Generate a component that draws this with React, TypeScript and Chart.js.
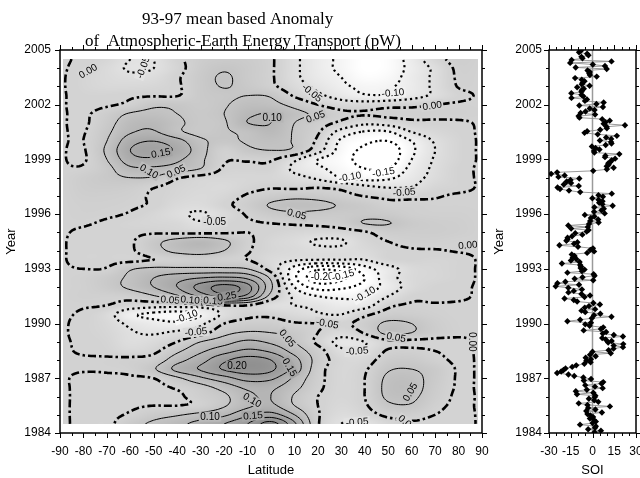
import React, { useEffect, useRef } from "react";
import { Chart, registerables } from "chart.js";
Chart.register(...registerables);

// ---------------- data ----------------
const GRID_LATS = [-90, -80, -70, -60, -50, -40, -30, -20, -10, 0, 10, 20, 30, 40, 50, 60, 70, 80, 90];
const GRID_YEARS = [
  2004.5, 2004.0, 2003.5, 2003.0, 2002.5, 2002.0, 2001.5, 2001.0, 2000.5, 2000.0,
  1999.5, 1999.0, 1998.5, 1998.0, 1997.5, 1997.0, 1996.5, 1996.0, 1995.5, 1995.0,
  1994.5, 1994.0, 1993.5, 1993.0, 1992.5, 1992.0, 1991.5, 1991.0, 1990.5, 1990.0,
  1989.5, 1989.0, 1988.5, 1988.0, 1987.5, 1987.0, 1986.5, 1986.0, 1985.5, 1985.0, 1984.5,
];
// anomaly (pW), one row per GRID_YEARS entry, columns follow GRID_LATS
const ANOMALY = [
  [0.003, -0.005, -0.02, -0.05, -0.05, -0.01, 0.02, 0.03, 0.025, 0.005, -0.04, -0.08, -0.11, -0.14, -0.13, -0.08, -0.02, 0.015, 0.006],
  [0.003, -0.01, -0.03, -0.055, -0.05, -0.015, 0.025, 0.045, 0.03, 0.005, -0.04, -0.08, -0.11, -0.14, -0.13, -0.085, -0.04, 0.008, 0.004],
  [0.003, -0.015, -0.03, -0.04, -0.035, -0.005, 0.03, 0.055, 0.03, 0.005, -0.04, -0.075, -0.1, -0.13, -0.12, -0.08, -0.04, 0.005, 0.003],
  [0.003, -0.015, -0.025, -0.025, -0.02, -0.005, 0.03, 0.052, 0.035, 0.01, -0.03, -0.06, -0.09, -0.11, -0.105, -0.08, -0.04, 0.002, 0.003],
  [0.003, -0.01, -0.01, -0.005, -0.003, -0.002, 0.03, 0.04, 0.05, 0.045, -0.005, -0.04, -0.07, -0.095, -0.095, -0.07, -0.04, -0.01, 0.003],
  [0.003, -0.01, -0.005, 0.01, 0.04, 0.04, 0.03, 0.045, 0.07, 0.065, 0.035, 0.0, -0.025, -0.025, -0.015, -0.01, 0.0, 0.005, 0.004],
  [0.003, -0.005, 0.02, 0.055, 0.065, 0.05, 0.035, 0.05, 0.09, 0.1, 0.065, 0.04, 0.01, 0.003, 0.01, 0.01, 0.01, 0.01, 0.005],
  [0.003, -0.005, 0.03, 0.08, 0.09, 0.06, 0.035, 0.045, 0.1, 0.1, 0.05, 0.02, -0.01, -0.04, -0.03, -0.01, -0.008, -0.005, 0.003],
  [0.003, -0.002, 0.04, 0.095, 0.105, 0.06, 0.035, 0.045, 0.06, 0.085, 0.045, 0.005, -0.07, -0.105, -0.105, -0.05, -0.025, -0.01, 0.003],
  [0.003, 0.0, 0.05, 0.13, 0.15, 0.12, 0.06, 0.04, 0.055, 0.065, 0.045, -0.01, -0.11, -0.14, -0.15, -0.1, -0.045, -0.015, 0.003],
  [0.003, -0.003, 0.06, 0.15, 0.17, 0.14, 0.07, 0.01, 0.04, 0.05, 0.04, -0.03, -0.12, -0.16, -0.18, -0.11, -0.05, -0.015, 0.003],
  [0.003, -0.004, 0.05, 0.13, 0.14, 0.11, 0.06, 0.005, 0.005, 0.005, -0.04, -0.1, -0.13, -0.17, -0.18, -0.1, -0.045, -0.015, 0.003],
  [0.003, 0.005, 0.035, 0.09, 0.09, 0.075, 0.05, -0.005, -0.01, -0.01, -0.06, -0.09, -0.12, -0.15, -0.15, -0.085, -0.04, -0.01, 0.003],
  [0.003, 0.02, 0.035, 0.05, 0.045, 0.005, -0.015, -0.02, -0.02, -0.02, -0.035, -0.06, -0.1, -0.12, -0.11, -0.07, -0.035, -0.01, 0.003],
  [0.003, 0.02, 0.025, 0.02, 0.003, -0.015, -0.025, -0.03, -0.015, -0.005, -0.01, -0.005, -0.015, -0.04, -0.055, -0.05, -0.02, -0.01, 0.003],
  [0.003, 0.015, 0.015, 0.01, -0.005, -0.02, -0.03, -0.02, 0.005, 0.025, 0.035, 0.03, 0.015, -0.002, -0.01, -0.01, -0.003, 0.004, 0.004],
  [0.003, 0.01, 0.01, 0.005, -0.005, -0.03, -0.035, -0.01, 0.02, 0.055, 0.07, 0.065, 0.045, 0.03, 0.01, 0.01, 0.005, 0.005, 0.004],
  [0.003, 0.008, 0.005, -0.003, -0.02, -0.04, -0.055, -0.03, 0.005, 0.03, 0.04, 0.035, 0.03, 0.035, 0.03, 0.015, 0.01, 0.01, 0.005],
  [0.003, 0.003, -0.005, -0.015, -0.02, -0.025, -0.045, -0.015, -0.005, 0.0, 0.005, 0.01, 0.02, 0.052, 0.052, 0.03, 0.02, 0.015, 0.006],
  [0.003, -0.005, -0.01, -0.008, -0.005, -0.008, -0.01, -0.005, 0.0, -0.01, -0.02, -0.025, -0.02, -0.005, 0.02, 0.02, 0.02, 0.015, 0.006],
  [0.003, -0.01, -0.01, -0.005, 0.035, 0.07, 0.09, 0.06, 0.01, -0.02, -0.035, -0.055, -0.055, -0.02, 0.0, 0.01, 0.01, 0.005, 0.004],
  [0.003, -0.01, -0.01, -0.005, 0.03, 0.065, 0.075, 0.05, 0.005, -0.02, -0.03, -0.04, -0.04, -0.03, -0.01, -0.003, -0.002, 0.002, 0.003],
  [0.003, -0.01, -0.01, -0.01, 0.0, 0.01, 0.02, 0.01, 0.0, -0.03, -0.045, -0.05, -0.05, -0.05, -0.015, -0.01, -0.015, -0.01, 0.003],
  [0.003, 0.0, 0.003, 0.045, 0.06, 0.06, 0.06, 0.06, 0.05, -0.02, -0.12, -0.19, -0.18, -0.12, -0.07, -0.03, -0.02, -0.01, 0.003],
  [0.003, 0.01, 0.03, 0.06, 0.1, 0.13, 0.15, 0.16, 0.14, 0.04, -0.14, -0.23, -0.21, -0.15, -0.07, -0.03, -0.02, -0.01, 0.003],
  [0.003, 0.01, 0.03, 0.06, 0.1, 0.15, 0.22, 0.27, 0.22, 0.06, -0.1, -0.17, -0.16, -0.13, -0.08, -0.03, -0.01, -0.005, 0.003],
  [0.003, 0.01, 0.01, 0.015, 0.045, 0.09, 0.16, 0.22, 0.18, 0.03, -0.06, -0.1, -0.11, -0.1, -0.05, -0.01, -0.008, -0.004, 0.003],
  [0.003, 0.003, 0.0, -0.02, -0.03, -0.03, -0.02, 0.0, 0.0, -0.04, -0.05, -0.06, -0.08, -0.07, -0.01, 0.005, 0.003, 0.003, 0.003],
  [0.003, -0.005, -0.03, -0.09, -0.11, -0.12, -0.1, -0.04, -0.01, -0.01, -0.03, -0.045, -0.05, -0.01, 0.02, 0.02, 0.01, 0.003, 0.003],
  [0.003, -0.008, -0.025, -0.06, -0.08, -0.09, -0.06, 0.0, 0.02, 0.02, 0.005, 0.0, -0.01, 0.02, 0.06, 0.05, 0.02, 0.005, 0.003],
  [0.003, -0.008, -0.02, -0.045, -0.055, -0.04, -0.02, 0.035, 0.055, 0.05, 0.035, 0.0, -0.03, 0.005, 0.065, 0.05, 0.02, 0.005, 0.003],
  [0.003, -0.005, -0.015, -0.04, -0.03, 0.0, 0.05, 0.08, 0.11, 0.09, 0.05, -0.01, -0.065, -0.05, -0.01, -0.01, -0.01, -0.005, 0.003],
  [0.003, -0.003, -0.01, -0.025, -0.01, 0.04, 0.09, 0.13, 0.16, 0.14, 0.08, 0.02, -0.04, -0.04, 0.005, 0.01, 0.0, -0.005, 0.003],
  [0.003, 0.003, 0.005, 0.01, 0.02, 0.08, 0.13, 0.19, 0.22, 0.2, 0.12, 0.03, -0.02, -0.02, 0.025, 0.03, 0.01, -0.005, 0.003],
  [0.003, 0.002, 0.003, 0.01, 0.045, 0.115, 0.155, 0.205, 0.225, 0.21, 0.13, 0.02, -0.02, -0.005, 0.045, 0.05, 0.03, -0.003, 0.003],
  [0.003, -0.005, -0.005, -0.005, 0.0, 0.04, 0.09, 0.13, 0.17, 0.16, 0.09, 0.015, -0.02, 0.0, 0.06, 0.065, 0.03, -0.003, 0.003],
  [0.003, -0.005, -0.008, -0.01, -0.008, 0.005, 0.03, 0.07, 0.11, 0.11, 0.065, 0.01, -0.02, 0.0, 0.065, 0.07, 0.025, -0.003, 0.003],
  [0.003, -0.005, -0.01, -0.01, -0.01, -0.005, 0.015, 0.04, 0.09, 0.1, 0.045, 0.0, -0.02, 0.0, 0.06, 0.06, 0.02, -0.005, 0.003],
  [0.003, -0.005, -0.008, -0.005, 0.0, 0.0, 0.01, 0.045, 0.09, 0.11, 0.05, 0.0, -0.025, -0.005, 0.04, 0.045, 0.01, -0.005, 0.003],
  [0.003, -0.005, -0.008, 0.005, 0.03, 0.045, 0.065, 0.09, 0.14, 0.17, 0.1, 0.005, -0.035, -0.02, 0.01, 0.015, 0.0, -0.008, 0.003],
  [0.003, -0.005, -0.01, 0.03, 0.06, 0.085, 0.12, 0.15, 0.2, 0.27, 0.16, 0.005, -0.05, -0.055, -0.02, -0.005, -0.01, -0.01, 0.003],
];
const CONTOUR_LEVELS = [-0.25, -0.2, -0.15, -0.1, -0.05, 0, 0.05, 0.1, 0.15, 0.2, 0.25];
// contour labels: [latitude, year, text, angle (deg, counter-clockwise)]
const CONTOUR_LABELS: [number, number, string, number][] = [
  [-78, 2003.85, "0.00", 30], [-54.6, 2004.05, "-0.05", 70], [-47, 1999.35, "0.15", 10],
  [-52, 1998.35, "0.10", -30], [-40.5, 1998.35, "0.05", 25], [0.5, 2001.3, "0.10", 0],
  [19, 2001.35, "0.05", 20], [17.5, 2002.65, "-0.05", -40], [52, 2002.65, "-0.10", 5],
  [68.7, 2001.95, "0.00", 8], [48, 1998.3, "-0.15", 10], [33.7, 1998.05, "-0.10", 10],
  [56.8, 1997.2, "-0.05", 5], [11, 1996.0, "0.05", -15], [-24, 1995.6, "-0.05", 0],
  [-43, 1991.3, "0.05", -5], [-34.5, 1991.3, "0.10", -5], [-24.7, 1991.25, "0.15", -5],
  [-18.8, 1991.5, "0.25", 10], [-36, 1990.4, "-0.10", 20], [-32, 1989.55, "-0.05", 5],
  [-14.5, 1987.7, "0.20", 0], [-8, 1985.8, "0.10", -30], [-26, 1984.9, "0.10", 0],
  [-7.7, 1984.95, "0.15", 5], [21.8, 1992.55, "-0.20", 0], [30.7, 1992.65, "-0.15", 15],
  [40, 1991.6, "-0.10", 30], [84, 1994.3, "0.00", 5], [24, 1990.0, "-0.05", -10],
  [7, 1989.2, "0.05", -50], [53.4, 1989.25, "0.05", -10], [36.7, 1988.5, "-0.05", 5],
  [8, 1987.6, "0.15", -60], [59.3, 1986.25, "0.05", 60], [86, 1989.0, "0.00", -90],
  [58, 1984.55, "0.00", -40], [36.7, 1984.6, "-0.05", 5],
];
const LAT_TICKS = [-90, -80, -70, -60, -50, -40, -30, -20, -10, 0, 10, 20, 30, 40, 50, 60, 70, 80, 90];
const YEAR_TICKS = [1984, 1987, 1990, 1993, 1996, 1999, 2002, 2005];
const SOI_TICKS = [-30, -15, 0, 15, 30];
const TITLE_LINES = ["93-97 mean based Anomaly", "of  Atmospheric-Earth Energy Transport (pW)"];

// monthly Southern Oscillation Index, Jan..Dec
const SOI_YEARS = [1984, 1985, 1986, 1987, 1988, 1989, 1990, 1991, 1992, 1993, 1994, 1995, 1996, 1997, 1998, 1999, 2000, 2001, 2002, 2003, 2004];
const SOI_1984 = [1.4, 5.8, -3.0, 1.8, 2.3, -8.6, 0.0, 2.3, 1.1, -1.8, 0.4, -1.5];
const SOI_1985 = [-3.5, 6.5, -4.3, 2.0, -3.0, 12.0, -3.5, -9.5, 4.0, 1.2, -2.5, 1.5];
const SOI_1986 = [2.0, -10.7, 0.6, -11.5, -3.9, 7.0, 1.7, -5.0, 6.2, 7.4, -6.0, -1.0];
const SOI_1987 = [-6.3, -12.6, -16.6, -24.4, -21.6, -20.0, -18.6, -14.0, -11.2, -5.6, -1.3, -4.2];
const SOI_1988 = [-1.1, -4.7, 2.2, -1.7, 12.6, 0.0, 11.1, 14.5, 21.0, 14.6, 21.2, 10.8];
const SOI_1989 = [13.2, 9.1, 6.7, 21.0, 14.7, 7.1, 9.4, -6.1, 5.8, 7.4, -2.0, -5.0];
const SOI_1990 = [-1.1, -17.3, -8.5, -0.5, 13.1, 1.0, 5.4, -5.0, -7.6, 1.8, -5.3, -2.4];
const SOI_1991 = [5.1, 0.6, -10.6, -12.9, -19.3, -5.5, -1.7, -7.6, -16.6, -12.9, -7.3, -16.7];
const SOI_1992 = [-25.4, -9.3, -24.2, -18.7, 0.5, -12.3, -6.9, 1.4, 0.8, -17.3, -7.3, -5.5];
const SOI_1993 = [-8.2, -7.9, -8.5, -21.1, -8.9, -14.9, -11.2, -13.6, -12.4, -14.3, -3.7, 1.1];
const SOI_1994 = [-1.5, 0.3, -10.0, -22.8, -12.7, -10.4, -18.0, -17.2, -17.2, -14.1, -7.0, -11.9];
const SOI_1995 = [-4.0, -2.7, -14.7, -3.2, -16.7, -2.4, 4.2, -1.6, 3.9, -1.1, 1.3, -5.3];
const SOI_1996 = [8.4, 1.1, 6.2, 7.8, 1.3, 13.9, 6.8, 4.6, 6.9, 4.2, -0.1, 7.2];
const SOI_1997 = [4.1, 13.3, -8.5, -16.2, -22.4, -24.1, -9.5, -19.8, -14.8, -17.8, -15.2, -9.1];
const SOI_1998 = [-23.5, -19.2, -28.5, -24.4, 0.5, 9.9, 14.6, 9.8, 11.1, 10.9, 12.5, 13.3];
const SOI_1999 = [15.6, 8.6, 8.9, 18.5, 1.3, 1.0, 4.8, 2.1, -0.4, 9.1, 13.1, 12.8];
const SOI_2000 = [5.1, 12.9, 9.4, 16.8, 3.6, -5.5, -3.7, 5.3, 9.9, 9.7, 22.4, 7.7];
const SOI_2001 = [8.9, 11.9, 6.7, -9.0, -9.6, 1.8, -8.2, -4.8, 1.4, -1.9, 7.2, -9.1];
const SOI_2002 = [2.7, 7.7, -5.2, -3.8, -14.5, -6.3, -7.6, -14.6, -7.6, -7.4, -6.0, -10.6];
const SOI_2003 = [-2.0, -7.4, -6.8, -5.5, -7.4, -12.0, 2.9, -1.8, -2.2, -1.9, -3.4, 9.8];
const SOI_2004 = [-11.6, 8.6, 0.2, -15.4, 13.1, -14.4, -6.9, -7.6, -2.8, -3.7, -9.3, -8.0];
const SOI_BY_YEAR = [SOI_1984, SOI_1985, SOI_1986, SOI_1987, SOI_1988, SOI_1989, SOI_1990, SOI_1991, SOI_1992, SOI_1993, SOI_1994, SOI_1995, SOI_1996, SOI_1997, SOI_1998, SOI_1999, SOI_2000, SOI_2001, SOI_2002, SOI_2003, SOI_2004];

// extent of the gridded field on the plot
const FIELD_LAT_MIN = -88.8;
const FIELD_LAT_MAX = 88.4;
const FIELD_YEAR_MIN = 1984.5;
const FIELD_YEAR_MAX = 2004.5;

// ---------------- field helpers ----------------
const clampI = (i: number, n: number) => (i < 0 ? 0 : i > n - 1 ? n - 1 : i);
function catmull(p0: number, p1: number, p2: number, p3: number, t: number) {
  return 0.5 * (2 * p1 + (-p0 + p2) * t + (2 * p0 - 5 * p1 + 4 * p2 - p3) * t * t + (-p0 + 3 * p1 - 3 * p2 + p3) * t * t * t);
}
function sampleField(lat: number, year: number) {
  const nR = ANOMALY.length, nC = GRID_LATS.length;
  let fr = (GRID_YEARS[0] - year) / (GRID_YEARS[0] - GRID_YEARS[1]);
  let fc = (lat - GRID_LATS[0]) / (GRID_LATS[1] - GRID_LATS[0]);
  fr = Math.max(0, Math.min(nR - 1, fr));
  fc = Math.max(0, Math.min(nC - 1, fc));
  const r1 = Math.min(Math.floor(fr), nR - 2), c1 = Math.min(Math.floor(fc), nC - 2);
  const tr = fr - r1, tc = fc - c1;
  const rv: number[] = [];
  for (let k = -1; k <= 2; k++) {
    const row = ANOMALY[clampI(r1 + k, nR)];
    rv.push(catmull(row[clampI(c1 - 1, nC)], row[c1], row[c1 + 1], row[clampI(c1 + 2, nC)], tc));
  }
  return catmull(rv[0], rv[1], rv[2], rv[3], tr);
}
function grayFor(v: number) {
  let g: number;
  if (v >= 0) g = 211 - 290 * v;
  else g = 211 + 340 * Math.max(0, -v - 0.01);
  return Math.round(Math.max(128, Math.min(255, g)));
}

type Line = [number, number][];
let contourCache: { level: number; lines: Line[] }[] | null = null;
function computeContours() {
  if (contourCache) return contourCache;
  const nC = 178, nR = 201;
  const lats: number[] = [], years: number[] = [];
  for (let c = 0; c < nC; c++) lats.push(FIELD_LAT_MIN + ((FIELD_LAT_MAX - FIELD_LAT_MIN) * c) / (nC - 1));
  for (let r = 0; r < nR; r++) years.push(FIELD_YEAR_MAX - ((FIELD_YEAR_MAX - FIELD_YEAR_MIN) * r) / (nR - 1));
  const vals = new Float64Array(nR * nC);
  for (let r = 0; r < nR; r++) for (let c = 0; c < nC; c++) vals[r * nC + c] = sampleField(lats[c], years[r]);
  const NH = nR * nC;
  const out: { level: number; lines: Line[] }[] = [];
  for (const L of CONTOUR_LEVELS) {
    const adj = new Map<number, number[]>();
    const link = (a: number, b: number) => {
      if (!adj.has(a)) adj.set(a, []);
      if (!adj.has(b)) adj.set(b, []);
      adj.get(a)!.push(b);
      adj.get(b)!.push(a);
    };
    for (let r = 0; r < nR - 1; r++) {
      for (let c = 0; c < nC - 1; c++) {
        const i0 = r * nC + c;
        const v0 = vals[i0], v1 = vals[i0 + 1], v2 = vals[i0 + nC + 1], v3 = vals[i0 + nC];
        const a0 = v0 >= L, a1 = v1 >= L, a2 = v2 >= L, a3 = v3 >= L;
        const top = r * nC + c, bottom = (r + 1) * nC + c;
        const left = NH + r * nC + c, right = NH + r * nC + c + 1;
        const cr: number[] = [];
        if (a0 !== a1) cr.push(top);
        if (a1 !== a2) cr.push(right);
        if (a3 !== a2) cr.push(bottom);
        if (a0 !== a3) cr.push(left);
        if (cr.length === 2) link(cr[0], cr[1]);
        else if (cr.length === 4) {
          const m = (v0 + v1 + v2 + v3) / 4 >= L;
          if (m === a0) { link(top, right); link(bottom, left); }
          else { link(left, top); link(right, bottom); }
        }
      }
    }
    const pt = (key: number): [number, number] => {
      if (key < NH) {
        const r = Math.floor(key / nC), c = key % nC;
        const va = vals[key], vb = vals[key + 1];
        const t = (L - va) / (vb - va);
        return [lats[c] + t * (lats[c + 1] - lats[c]), years[r]];
      }
      const k = key - NH;
      const r = Math.floor(k / nC), c = k % nC;
      const va = vals[k], vb = vals[k + nC];
      const t = (L - va) / (vb - va);
      return [lats[c], years[r] + t * (years[r + 1] - years[r])];
    };
    const used = new Set<number>();
    const lines: Line[] = [];
    const walk = (start: number) => {
      const seq = [start];
      used.add(start);
      let cur = start;
      for (;;) {
        const nb = adj.get(cur) || [];
        let nxt = -1;
        for (const n of nb) if (!used.has(n)) { nxt = n; break; }
        if (nxt < 0) {
          if (seq.length > 2 && nb.includes(start)) seq.push(start);
          break;
        }
        seq.push(nxt);
        used.add(nxt);
        cur = nxt;
      }
      lines.push(seq.map(pt));
    };
    for (const [k, nb] of adj) if (nb.length === 1 && !used.has(k)) walk(k);
    for (const k of adj.keys()) if (!used.has(k)) walk(k);
    out.push({ level: L, lines });
  }
  contourCache = out;
  return out;
}

// ---------------- drawing helpers ----------------
function drawFrameAndTicks(chart: any, xMajor: number[], xMinor: number[], yMajor: number[], yMinor: number[]) {
  const { ctx, chartArea: a, scales } = chart;
  const xs = scales.x, ys = scales.y;
  ctx.save();
  ctx.strokeStyle = "#000";
  ctx.lineWidth = 1;
  const seg = (x1: number, y1: number, x2: number, y2: number) => {
    ctx.beginPath();
    ctx.moveTo(x1, y1);
    ctx.lineTo(x2, y2);
    ctx.stroke();
  };
  const doX = (vals: number[], len: number) => vals.forEach((v) => {
    const p = Math.round(xs.getPixelForValue(v)) + 0.5;
    seg(p, a.bottom, p, a.bottom + len);
    seg(p, a.top, p, a.top - len);
  });
  const doY = (vals: number[], len: number) => vals.forEach((v) => {
    const p = Math.round(ys.getPixelForValue(v)) + 0.5;
    seg(a.left, p, a.left - len, p);
    seg(a.right, p, a.right + len, p);
  });
  doX(xMajor, 5); doX(xMinor, 3); doY(yMajor, 5); doY(yMinor, 3);
  ctx.lineWidth = 1.5;
  ctx.strokeRect(a.left, a.top, a.right - a.left, a.bottom - a.top);
  ctx.restore();
}

let fieldImage: HTMLCanvasElement | null = null;
const fieldPlugin = {
  id: "fieldPlugin",
  afterDraw(chart: any) {
    const { ctx, scales } = chart;
    const xs = scales.x, ys = scales.y;
    const x0 = Math.round(xs.getPixelForValue(FIELD_LAT_MIN));
    const x1 = Math.round(xs.getPixelForValue(FIELD_LAT_MAX));
    const y0 = Math.round(ys.getPixelForValue(FIELD_YEAR_MAX));
    const y1 = Math.round(ys.getPixelForValue(FIELD_YEAR_MIN));
    const w = x1 - x0, h = y1 - y0;
    if (!fieldImage) {
      const off = document.createElement("canvas");
      off.width = w; off.height = h;
      const octx = off.getContext("2d")!;
      const img = octx.createImageData(w, h);
      for (let j = 0; j < h; j++) {
        const yr = ys.getValueForPixel(y0 + j + 0.5);
        for (let i = 0; i < w; i++) {
          const lat = xs.getValueForPixel(x0 + i + 0.5);
          const g = grayFor(sampleField(lat, yr));
          const o = (j * w + i) * 4;
          img.data[o] = g; img.data[o + 1] = g; img.data[o + 2] = g; img.data[o + 3] = 255;
        }
      }
      octx.putImageData(img, 0, 0);
      fieldImage = off;
    }
    ctx.save();
    ctx.drawImage(fieldImage, x0, y0);
    ctx.beginPath();
    ctx.rect(x0, y0, w, h);
    ctx.clip();
    const contours = computeContours();
    ctx.lineJoin = "round";
    for (const { level, lines } of contours) {
      if (level > 0.001) { ctx.setLineDash([]); ctx.lineWidth = 1; ctx.lineCap = "butt"; }
      else if (level > -0.001) { ctx.setLineDash([8, 3, 2.5, 3]); ctx.lineWidth = 2.6; ctx.lineCap = "butt"; }
      else { ctx.setLineDash([2.2, 3.2]); ctx.lineWidth = 2.2; ctx.lineCap = "butt"; }
      ctx.strokeStyle = "#000";
      for (const ln of lines) {
        if (ln.length < 2) continue;
        ctx.beginPath();
        ln.forEach(([lat, yr], k) => {
          const px = xs.getPixelForValue(lat), py = ys.getPixelForValue(yr);
          if (k === 0) ctx.moveTo(px, py); else ctx.lineTo(px, py);
        });
        ctx.stroke();
      }
    }
    ctx.setLineDash([]);
    ctx.font = '10px "Liberation Sans", Arial, sans-serif';
    ctx.textAlign = "center";
    ctx.textBaseline = "middle";
    for (const [lat, yr, text, ang] of CONTOUR_LABELS) {
      const px = xs.getPixelForValue(lat), py = ys.getPixelForValue(yr);
      const g = grayFor(sampleField(lat, yr));
      ctx.save();
      ctx.translate(px, py);
      ctx.rotate((-ang * Math.PI) / 180);
      const tw = ctx.measureText(text).width;
      ctx.fillStyle = `rgb(${g},${g},${g})`;
      ctx.fillRect(-tw / 2 - 1.5, -5, tw + 3, 10);
      ctx.fillStyle = "#000";
      ctx.fillText(text, 0, 0.5);
      ctx.restore();
    }
    ctx.restore();

    const latMinor: number[] = [];
    for (let v = -85; v <= 85; v += 10) latMinor.push(v);
    const yearMinor: number[] = [];
    for (let v = 1984; v <= 2005; v++) if (!YEAR_TICKS.includes(v)) yearMinor.push(v);
    drawFrameAndTicks(chart, LAT_TICKS, latMinor, YEAR_TICKS, yearMinor);

    ctx.save();
    ctx.fillStyle = "#000";
    ctx.font = '17px "Liberation Serif", "Times New Roman", serif';
    ctx.textAlign = "left";
    ctx.textBaseline = "alphabetic";
    ctx.fillText(TITLE_LINES[0], 142, 24);
    ctx.fillText(TITLE_LINES[1], 85, 46);
    ctx.restore();
  },
};

const soiFramePlugin = {
  id: "soiFrame",
  afterDraw(chart: any) {
    const minor: number[] = [];
    for (let v = -25; v <= 25; v += 5) if (!SOI_TICKS.includes(v)) minor.push(v);
    const yearMinor: number[] = [];
    for (let v = 1984; v <= 2005; v++) if (!YEAR_TICKS.includes(v)) yearMinor.push(v);
    drawFrameAndTicks(chart, SOI_TICKS, minor, YEAR_TICKS, yearMinor);
  },
};

const AXIS_FONT = { family: '"Liberation Sans", Arial, sans-serif', size: 12 };
const TITLE_FONT = { family: '"Liberation Sans", Arial, sans-serif', size: 13 };

function yAxis(width: number, pad: number, titlePad: number) {
  return {
    type: "linear",
    min: 1984,
    max: 2005,
    afterBuildTicks: (s: any) => { s.ticks = YEAR_TICKS.map((v) => ({ value: v })); },
    afterFit: (s: any) => { s.width = width; s.paddingTop = 0; s.paddingBottom = 0; },
    ticks: { color: "#000", font: AXIS_FONT, padding: pad, autoSkip: false, callback: (v: any) => String(v) },
    grid: { display: false, drawTicks: false },
    border: { display: false },
    title: { display: true, text: "Year", color: "#000", font: TITLE_FONT, padding: { top: titlePad, bottom: 0 } },
  };
}

export default function App() {
  const mainRef = useRef<HTMLCanvasElement>(null);
  const soiRef = useRef<HTMLCanvasElement>(null);

  useEffect(() => {
    const main = new Chart(mainRef.current!, {
      type: "scatter",
      data: { datasets: [] },
      options: {
        responsive: false,
        animation: false,
        devicePixelRatio: 1,
        layout: { padding: { top: 50, right: 23, bottom: 0, left: 0 } },
        plugins: { legend: { display: false }, tooltip: { enabled: false }, title: { display: false } },
        scales: {
          x: {
            type: "linear",
            min: -90,
            max: 90,
            afterBuildTicks: (s: any) => { s.ticks = LAT_TICKS.map((v) => ({ value: v })); },
            afterFit: (s: any) => { s.height = 45; s.paddingLeft = 0; s.paddingRight = 0; },
            ticks: { color: "#000", font: AXIS_FONT, padding: 11, autoSkip: false, maxRotation: 0, callback: (v: any) => String(v) },
            grid: { display: false, drawTicks: false },
            border: { display: false },
            title: { display: true, text: "Latitude", color: "#000", font: TITLE_FONT, padding: { top: 0, bottom: 0 } },
          },
          y: yAxis(60, 9, 4),
        },
      } as any,
      plugins: [fieldPlugin],
    } as any);

    const soiPoints: { x: number; y: number }[] = [];
    SOI_YEARS.forEach((yr, i) => {
      SOI_BY_YEAR[i].forEach((v, m) => soiPoints.push({ x: v, y: yr + (m + 0.5) / 12 }));
    });

    const soi = new Chart(soiRef.current!, {
      type: "scatter",
      data: {
        datasets: [
          {
            data: soiPoints,
            showLine: true,
            borderColor: "#8f8f8f",
            borderWidth: 0.9,
            pointStyle: "rectRot",
            pointRadius: 3.2,
            pointBackgroundColor: "#000",
            pointBorderColor: "#000",
            pointBorderWidth: 0,
          },
          {
            data: [{ x: 0, y: 1984 }, { x: 0, y: 2005 }],
            showLine: true,
            borderColor: "#9a9a9a",
            borderWidth: 1.5,
            pointRadius: 0,
          },
        ],
      },
      options: {
        responsive: false,
        animation: false,
        devicePixelRatio: 1,
        layout: { padding: { top: 50, right: 4, bottom: 0, left: 0 } },
        plugins: { legend: { display: false }, tooltip: { enabled: false }, title: { display: false } },
        scales: {
          x: {
            type: "linear",
            min: -30,
            max: 30,
            afterBuildTicks: (s: any) => { s.ticks = SOI_TICKS.map((v) => ({ value: v })); },
            afterFit: (s: any) => { s.height = 45; s.paddingLeft = 0; s.paddingRight = 0; },
            ticks: { color: "#000", font: AXIS_FONT, padding: 11, autoSkip: false, maxRotation: 0, callback: (v: any) => String(v) },
            grid: { display: false, drawTicks: false },
            border: { display: false },
            title: { display: true, text: "SOI", color: "#000", font: TITLE_FONT, padding: { top: 0, bottom: 0 } },
          },
          y: yAxis(59, 7, 2),
        },
      } as any,
      plugins: [soiFramePlugin],
    } as any);

    return () => {
      main.destroy();
      soi.destroy();
    };
  }, []);

  return (
    <div style={{ position: "absolute", left: 0, top: 0, width: 640, height: 478, background: "#fff", overflow: "hidden" }}>
      <canvas ref={mainRef} width={505} height={478} style={{ position: "absolute", left: 0, top: 0, width: 505, height: 478 }} />
      <canvas ref={soiRef} width={150} height={478} style={{ position: "absolute", left: 490, top: 0, width: 150, height: 478 }} />
    </div>
  );
}
